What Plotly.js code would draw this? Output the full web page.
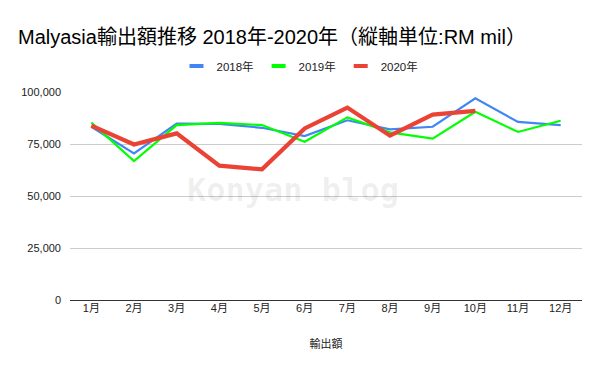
<!DOCTYPE html>
<html><head><meta charset="utf-8">
<script src="https://cdn.plot.ly/plotly-3.0.1.min.js"></script>
<style>html,body{margin:0;padding:0;background:#fff}</style>
</head><body><div id="chart" style="width:600px;height:371px"></div>
<script>
const months = ['1月','2月','3月','4月','5月','6月','7月','8月','9月','10月','11月','12月'];
const seriesNames = ['2018年','2019年','2020年'];
const v2018 = [83300, 70500, 84800, 84700, 82800, 78800, 86400, 82000, 83300, 97000, 85600, 84100];
const v2019 = [85300, 66800, 84100, 85200, 84100, 76100, 87800, 80600, 77600, 90500, 80800, 86200];
const v2020 = [83800, 74800, 80100, 64600, 62800, 82500, 92500, 79000, 89100, 90900];
const colors = ['#4285F4', '#00FF00', '#EA4335'];
const widths = [2.2, 2.2, 4.2];
const yTicks = [0, 25000, 50000, 75000, 100000];

const FONT = 'Liberation Sans, Arial, Noto Sans CJK JP, sans-serif';
const all = [v2018, v2019, v2020];
const traces = [];
all.forEach((vals, i) => {
  traces.push({
    x: months.slice(0, vals.length), y: vals, type: 'scatter', mode: 'lines',
    line: {color: colors[i], width: widths[i]}, showlegend: false, hoverinfo: 'skip',
    legendgroup: 'g' + i
  });
});
all.forEach((vals, i) => {
  traces.push({
    x: [null], y: [null], type: 'scatter', mode: 'markers', name: seriesNames[i],
    marker: {symbol: 'line-ew-open', size: 10, color: colors[i], line: {color: colors[i], width: 4}},
    legendgroup: 'g' + i
  });
});

const layout = {
  width: 600, height: 371,
  margin: {l: 70, r: 18, t: 92, b: 71},
  paper_bgcolor: '#fff', plot_bgcolor: '#fff',
  font: {family: FONT, size: 11, color: '#222'},
  title: {text: 'Malyasia輸出額推移 2018年-2020年（縦軸単位:RM mil）',
    font: {family: 'Liberation Sans, Noto Sans CJK JP, sans-serif', size: 20, color: '#000'},
    x: 18/600, xanchor: 'left', xref: 'container', y: 1 - 37/371, yanchor: 'middle', yref: 'container'},
  showlegend: true,
  legend: {orientation: 'h', x: 0.5, xanchor: 'center', xref: 'container',
    y: 1 - 66/371, yanchor: 'middle', yref: 'container',
    font: {size: 11.5, color: '#222'}, itemwidth: 30, itemclick: false, itemdoubleclick: false},
  xaxis: {type: 'category', categoryorder: 'array', categoryarray: months,
    range: [-0.5, 11.5], showgrid: false, showline: false, zeroline: false,
    ticks: '', tickfont: {size: 11, color: '#222'},
    title: {text: '輸出額', font: {size: 11, color: '#222'}, standoff: 27}},
  yaxis: {range: [0, 100000], tickvals: yTicks, tickformat: ',', showgrid: true,
    gridcolor: '#cccccc', gridwidth: 1, zeroline: true, zerolinecolor: '#333', zerolinewidth: 1,
    showline: false, ticks: '', ticklabelstandoff: 8, tickfont: {size: 11, color: '#222'},
    fixedrange: true},
  annotations: [{text: '<b>Konyan blog</b>', xref: 'paper', yref: 'paper', x: 0.435, y: 0.53,
    showarrow: false, font: {family: 'DejaVu Sans Mono, monospace', size: 32, color: 'rgba(0,0,0,0.07)'}}]
};
Plotly.newPlot('chart', traces, layout, {displayModeBar: false, staticPlot: true});
</script></body></html>
